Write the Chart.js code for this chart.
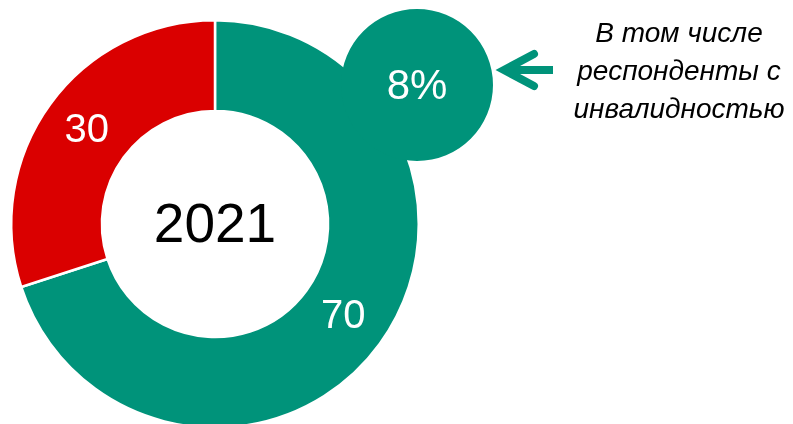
<!DOCTYPE html>
<html>
<head>
<meta charset="utf-8">
<script src="https://cdn.jsdelivr.net/npm/chart.js@4"></script>
<style>
  html, body { margin: 0; padding: 0; background: #fff; overflow: hidden; }
  #wrap { position: relative; width: 793px; height: 424px; overflow: hidden; }
  #mainBox { position: absolute; left: 0; top: 0; width: 793px; height: 442px; }
  #subBox { position: absolute; left: 341px; top: 9px; width: 152px; height: 152px; }
  #arrow { position: absolute; left: 0; top: 0; }
  #note {
    position: absolute; left: 559px; top: 14px; width: 240px;
    font: italic 28px "Liberation Sans", Arial, sans-serif; line-height: 38px;
    text-align: center; color: #000; white-space: nowrap;
  }
</style>
</head>
<body>
<div id="wrap">
  <div id="mainBox"><canvas id="mainChart"></canvas></div>
  <div id="subBox"><canvas id="subChart"></canvas></div>
  <svg id="arrow" width="793" height="424">
    <line x1="506" y1="70" x2="553" y2="70" stroke="#00937a" stroke-width="8"/>
    <polyline points="534,54 504,70 534,86" fill="none" stroke="#00937a" stroke-width="8" stroke-linecap="round" stroke-linejoin="miter"/>
  </svg>
  <div id="note">В том числе<br>респонденты с<br>инвалидностью</div>
</div>
<script>
// ===== Data =====
const categories = ['Без инвалидности', 'Другие'];
const shares = [70, 30];
const sliceColors = ['#00937a', '#da0000'];
const yearLabel = '2021';
const disabilityShare = [8];

const FONT = '"Liberation Sans", Arial, sans-serif';

// ===== Plugin: values on the slices and the year in the hole =====
const sliceLabels = {
  id: 'sliceLabels',
  afterDatasetsDraw(chart) {
    const ctx = chart.ctx;
    const meta = chart.getDatasetMeta(0);
    ctx.save();
    ctx.textAlign = 'center';
    ctx.textBaseline = 'middle';
    ctx.fillStyle = '#fff';
    ctx.font = '40px ' + FONT;
    meta.data.forEach((arc, i) => {
      const p = arc.tooltipPosition();
      ctx.fillText(String(chart.data.datasets[0].data[i]), p.x, p.y);
    });
    const c = meta.data[0];
    ctx.fillStyle = '#000';
    ctx.font = '55px ' + FONT;
    ctx.fillText(yearLabel, c.x, c.y + 3);
    ctx.restore();
  }
};

// ===== Plugin: percent inside the small circle =====
const centerPercent = {
  id: 'centerPercent',
  afterDatasetsDraw(chart) {
    const ctx = chart.ctx;
    const arc = chart.getDatasetMeta(0).data[0];
    ctx.save();
    ctx.textAlign = 'center';
    ctx.textBaseline = 'middle';
    ctx.fillStyle = '#fff';
    ctx.font = '42px ' + FONT;
    ctx.fillText(chart.data.datasets[0].data[0] + '%', arc.x, arc.y + 2);
    ctx.restore();
  }
};

// ===== Main doughnut =====
new Chart(document.getElementById('mainChart'), {
  type: 'doughnut',
  data: {
    labels: categories,
    datasets: [{
      data: shares,
      backgroundColor: sliceColors,
      borderColor: '#fff',
      borderWidth: 2.5
    }]
  },
  options: {
    responsive: true,
    maintainAspectRatio: false,
    animation: false,
    cutout: '55.5%',
    layout: { padding: { left: 10, right: 373, top: 19, bottom: 13 } },
    plugins: { legend: { display: false }, tooltip: { enabled: false } }
  },
  plugins: [sliceLabels]
});

// ===== Small circle =====
new Chart(document.getElementById('subChart'), {
  type: 'pie',
  data: {
    labels: ['Респонденты с инвалидностью'],
    datasets: [{
      data: disabilityShare,
      backgroundColor: ['#00937a'],
      borderWidth: 0
    }]
  },
  options: {
    responsive: true,
    maintainAspectRatio: false,
    animation: false,
    layout: { padding: 0 },
    plugins: { legend: { display: false }, tooltip: { enabled: false } }
  },
  plugins: [centerPercent]
});
</script>
</body>
</html>
